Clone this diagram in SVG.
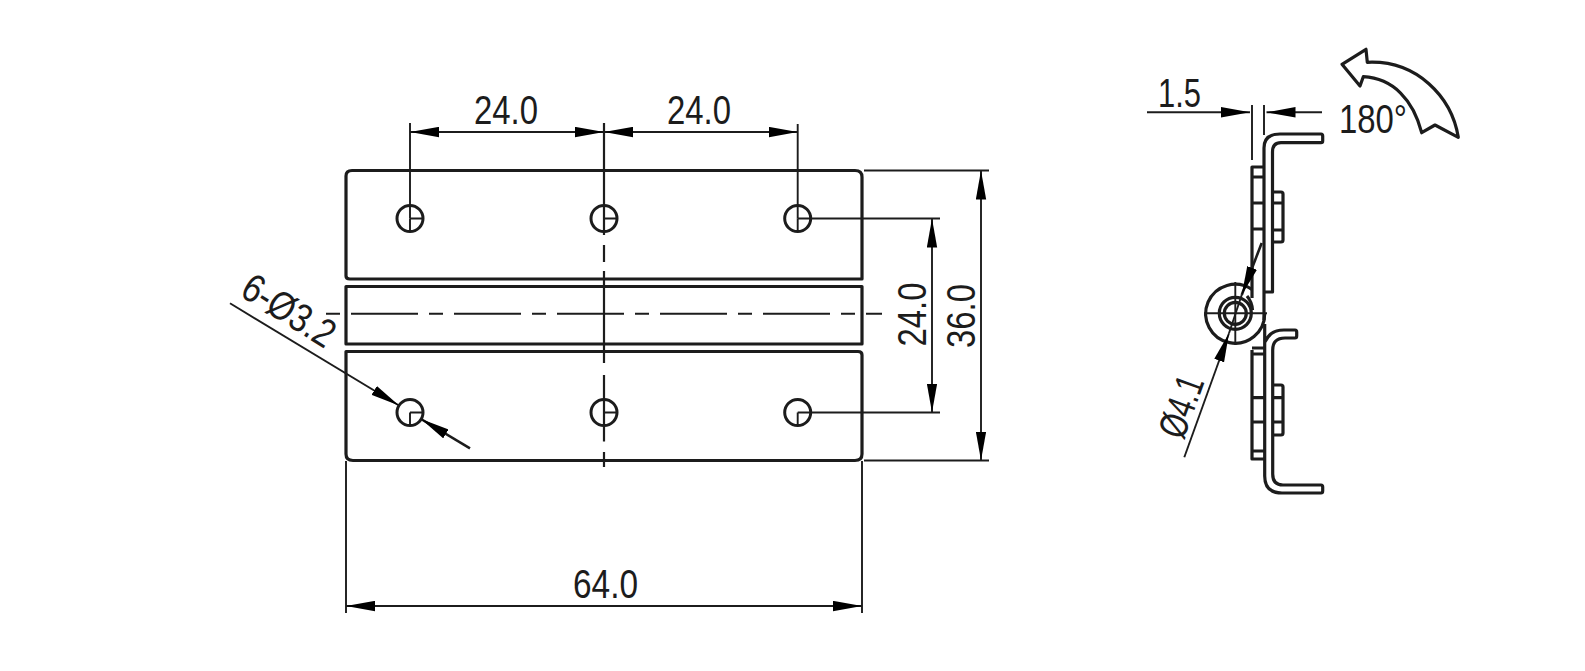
<svg xmlns="http://www.w3.org/2000/svg" width="1585" height="671" viewBox="0 0 1585 671">
<style>
.o{fill:none;stroke:#1c1c1c;stroke-width:3.2;stroke-linejoin:round}
.k{fill:none;stroke:#1c1c1c;stroke-width:2.6}
.d{fill:none;stroke:#1c1c1c;stroke-width:1.9}
.a{marker-end:url(#ah)}
.h{fill:#fff;stroke:#1c1c1c;stroke-width:3}
.t{font-family:"Liberation Sans",Arial,sans-serif;font-size:40px;fill:#1c1c1c}
</style>
<defs>
<marker id="ah" markerUnits="userSpaceOnUse" markerWidth="29" markerHeight="11" viewBox="0 0 28 10" refX="28" refY="5" orient="auto-start-reverse"><path d="M0 0L28 5L0 10Z" fill="#000"/></marker>
</defs>
<rect width="1585" height="671" fill="#fff"/>
<g id="plate">
<path class="o" d="M346 276V176Q346 170.500 352 170.500H855Q862 170.500 862 177V279H350Q346 279 346 276Z"/>
<path class="o" d="M346 344V286.500H862V344Z"/>
<path class="o" d="M346 351.500H858Q862 351.500 862 355V454Q862 460.500 855 460.500H353Q346 460.500 346 454Z"/>
</g>
<g id="holes">
<circle class="h" cx="410" cy="218.500" r="13"/><circle class="h" cx="604" cy="218.500" r="13"/><circle class="h" cx="797.700" cy="218.500" r="13"/>
<circle class="h" cx="410" cy="412.500" r="13"/><circle class="h" cx="604" cy="412.500" r="13"/><circle class="h" cx="797.700" cy="412.500" r="13"/>
<path class="d" d="M410 218.500H423M410 218.500V231.500M604 218.500H617M797.700 218.500V231.500M410 412.500H423M410 412.500V425.500M604 412.500H617M797.700 412.500V425.500"/>
</g>
<g id="connectors">
<path class="d" d="M326 313.700H882" stroke-dasharray="67 11 14 11" stroke-dashoffset="78"/>
<path class="k" d="M604 123V235M604 245V262M604 271V363M604 375V441.500M604 452V467" style="stroke-width:2.200"/>
<path class="d" d="M410 123V218.500M797.700 124V218.500M797.700 218.500H940M797.700 412.500H940M864 170.500H989M864 460.500H989M346 461V613M862 461V613"/>
<path class="d a" d="M507 132H410"/><path class="d a" d="M507 132H604"/>
<path class="d a" d="M700 132H604"/><path class="d a" d="M700 132H797.700"/>
<path class="d a" d="M932 315V218.500"/><path class="d a" d="M932 315V412.500"/>
<path class="d a" d="M981 315V170.500"/><path class="d a" d="M981 315V460.500"/>
<path class="d a" d="M600 606H346"/><path class="d a" d="M600 606H862"/>
<path class="d a" d="M230 303.300L399 405.500"/>
<path class="k a" d="M470 448.300L421 419"/>
<path class="d a" d="M1147 112.300H1250"/><path class="d a" d="M1322 112.300H1266.500"/>
<path class="d" d="M1252 105V160M1264 105V135"/>
</g>
<g id="side-view">
<path class="o" d="M1264 165V148Q1264 134 1280 134H1321Q1322.700 134 1322.700 136V141Q1322.700 142.700 1321 142.700H1281Q1272.500 142.700 1272.500 152V292H1264"/>
<path class="o" d="M1264 165V320"/>
<path class="o" d="M1252 298V167H1264M1252 177H1264M1252 203H1264M1252 229H1264"/>
<path class="o" d="M1272.500 192H1281Q1283 192 1283 194V240Q1283 242 1281 242H1272.500M1272.500 203H1283M1272.500 230H1283"/>
<path class="o" d="M1252 289.500A29.500 29.500 0 1 0 1264.700 313.500"/>
<path class="o" d="M1247 296Q1252 302 1252.500 310"/>
<circle class="o" cx="1235.300" cy="313.300" r="16"/><circle class="o" cx="1235.300" cy="313.300" r="11"/>
<path class="d" d="M1204 313.300H1267M1235.300 282V345"/>
<path class="o" d="M1264.700 324V476Q1264.700 493 1282 493H1321Q1322.700 493 1322.700 491V487Q1322.700 485 1321 485H1283Q1272.700 485 1272.700 474V350Q1272.700 338 1285 338H1295Q1296.700 338 1296.700 336V332Q1296.700 330 1295 330H1284Q1270 330 1265 342"/>
<path class="o" d="M1252 348H1264M1252 354H1264M1252 350V459H1264M1252 397.700H1264M1252 422H1264M1252 451H1264"/>
<path class="o" d="M1272.500 385H1281Q1283 385 1283 387V433Q1283 435 1281 435H1272.500M1272.500 397.700H1283M1272.500 422H1283"/>
<path class="d a" d="M1184.300 457.300L1229 333.300"/>
<path class="d" d="M1229 333.300L1241.700 295"/>
<path class="k a" d="M1261.700 243L1241.700 295"/>
</g>
<g id="rotate-symbol">
<path class="o" d="M1342 64.300L1366 49.300L1367.300 62.300C1416.700 60 1451.700 96.700 1458.300 137.300L1435 125L1421.700 132.700C1413.300 100 1393.300 78.300 1363.300 76.700L1360 86Z"/>
</g>
<g id="labels">
<text class="t" x="474" y="124.300" textLength="64" lengthAdjust="spacingAndGlyphs">24.0</text>
<text class="t" x="667" y="124.300" textLength="64" lengthAdjust="spacingAndGlyphs">24.0</text>
<text class="t" x="573" y="597.500" textLength="65" lengthAdjust="spacingAndGlyphs">64.0</text>
<text class="t" transform="translate(926 346.500) rotate(-90)" textLength="64" lengthAdjust="spacingAndGlyphs">24.0</text>
<text class="t" transform="translate(975 348) rotate(-90)" textLength="64" lengthAdjust="spacingAndGlyphs">36.0</text>
<text class="t" x="1158" y="107" textLength="43" lengthAdjust="spacingAndGlyphs">1.5</text>
<text class="t" x="1339" y="133" textLength="68" lengthAdjust="spacingAndGlyphs">180°</text>
<text class="t" transform="translate(238.500 295) rotate(32)" textLength="102" lengthAdjust="spacingAndGlyphs">6-Ø3.2</text>
<text class="t" transform="translate(1183.300 440.700) rotate(-70)" textLength="63" lengthAdjust="spacingAndGlyphs">Ø4.1</text>
</g>
</svg>
